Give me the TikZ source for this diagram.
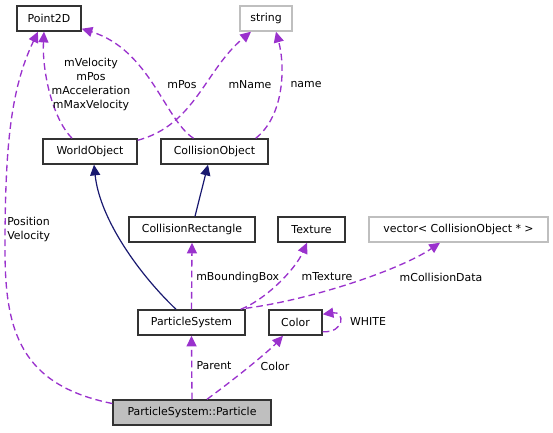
\documentclass[tikz,border=0pt]{standalone}
\usepackage{fontspec}
\setmainfont{DejaVu Sans}
\usetikzlibrary{arrows.meta,calc}
\definecolor{dep}{HTML}{9A32CD}
\definecolor{inh}{HTML}{191970}
\definecolor{gbox}{HTML}{BFBFBF}
\tikzset{
  cls/.style={draw=black!80,line width=1.1pt,minimum height=18.75pt,inner sep=0pt,font=\fontsize{8.2}{9.5}\selectfont,fill=white},
  ext/.style={cls,draw=gbox},
  depl/.style={draw=dep,line width=1pt,dash pattern=on 5pt off 3pt,-{Triangle[length=8pt,width=7.5pt,fill=dep]}},
  inhl/.style={draw=inh,line width=0.9pt,-{Triangle[length=8pt,width=7.5pt,fill=inh]}},
  lbl/.style={font=\fontsize{8.2}{10.5}\selectfont,inner sep=0pt}
}
\begin{document}
\begin{tikzpicture}[x=0.75pt,y=-0.75pt]
\useasboundingbox (0,0) rectangle (553,432);
% nodes
\node[cls,minimum width=48pt] (p2d) at (49,18.5) {Point2D};
\node[ext,minimum width=39pt] (str) at (266,18.5) {string};
\node[cls,minimum width=70.5pt] (wo) at (90,151.5) {WorldObject};
\node[cls,minimum width=80.25pt] (co) at (214.5,151.5) {CollisionObject};
\node[cls,minimum width=94.5pt] (cr) at (192,229.5) {CollisionRectangle};
\node[cls,minimum width=50.25pt] (tex) at (311.5,229.5) {Texture};
\node[ext,minimum width=134.25pt] (vec) at (458.5,229.5) {vector< CollisionObject * >};
\node[cls,minimum width=80.25pt] (ps) at (191.5,322.5) {ParticleSystem};
\node[cls,minimum width=39.75pt] (col) at (295.5,322.5) {Color};
\node[cls,minimum width=118.5pt,fill=gbox] (par) at (192,412.5) {ParticleSystem::Particle};
% edges to Point2D
\draw[depl] ($(wo.north)+(-18,0)$) .. controls (52,118) and (42,70) .. ($(p2d.south)+(-5,0)$);
\draw[depl] ($(co.north)+(-21,0)$) .. controls (165,120) and (150,50) .. ($(p2d.south east)+(0,-3)$);
\draw[depl] ($(par.west)+(0,-9)$) .. controls (20,385) and (5,330) .. (5,250)
   .. controls (5,150) and (10,90) .. ($(p2d.south)+(-11,0)$);
% edges to string
\draw[depl] ($(wo.north east)+(0,2)$) .. controls (195,125) and (205,70) .. ($(str.south)+(-15,0)$);
\draw[depl] ($(co.north east)+(-13,0)$) .. controls (285,115) and (285,65) .. ($(str.south)+(10,0)$);
% inheritance
\draw[inhl] ($(ps.north)+(-15.5,0)$) .. controls (140,275) and (100,220) .. ($(wo.south)+(4,0)$);
\draw[inhl] ($(cr.north)+(3,0)$) -- ($(co.south)+(-6.5,0)$);
% from ParticleSystem
\draw[depl] (ps.north) -- (cr.south);
\draw[depl] ($(ps.north east)+(-5,0)$) .. controls (265,300) and (295,270) .. ($(tex.south)+(-4.5,0)$);
\draw[depl] ($(ps.north east)+(0,-1)$) .. controls (310,300) and (400,270) .. ($(vec.south)+(-18.5,0)$);
% Color self-loop
\draw[depl] ($(col.south east)+(0,-4)$) .. controls (345,333) and (345,311) .. ($(col.north east)+(0,5)$);
% from Particle
\draw[depl] (par.north) -- (ps.south);
\draw[depl] ($(par.north)+(15,0)$) .. controls (240,375) and (270,350) .. ($(col.south)+(-12.5,0)$);
% labels
\node[lbl,align=center] (l1) at (91,84) {mVelocity\\mPos\\mAcceleration\\mMaxVelocity};
\node[lbl] (l2) at (182,85) {mPos};
\node[lbl] (l3) at (250,85) {mName};
\node[lbl] (l4) at (306,85) {name};
\node[lbl,align=left,anchor=west] (l5) at (7,229) {Position\\Velocity};
\node[lbl,anchor=west] (l6) at (196,277) {mBoundingBox};
\node[lbl] (l7) at (327,277) {mTexture};
\node[lbl] (l8) at (441,277) {mCollisionData};
\node[lbl] (l9) at (368,322) {WHITE};
\node[lbl] (l10) at (214,366) {Parent};
\node[lbl] (l11) at (275,366) {Color};
\end{tikzpicture}
\end{document}
